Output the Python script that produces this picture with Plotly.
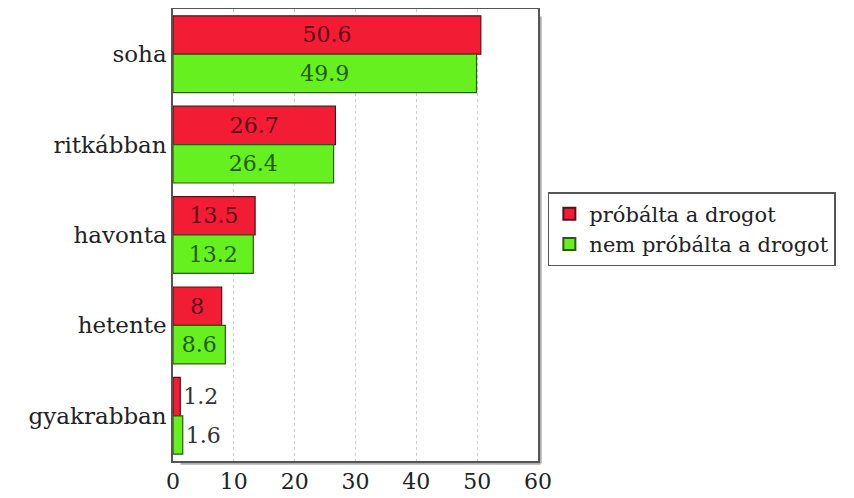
import plotly.graph_objects as go

categories = ["soha", "ritkábban", "havonta", "hetente", "gyakrabban"]
tried = [50.6, 26.7, 13.5, 8, 1.2]
not_tried = [49.9, 26.4, 13.2, 8.6, 1.6]
series_names = ["próbálta a drogot", "nem próbálta a drogot"]
x_ticks = [0, 10, 20, 30, 40, 50, 60]

FONT = "DejaVu Serif"
W, H = 854, 498
L, T = 165, 1
pw, ph = 365, 452
R, B = W - L - pw, H - T - ph

def positions(vals):
    return ["outside" if v < 5 else "inside" for v in vals]

fig = go.Figure()
fig.add_trace(go.Bar(
    y=categories, x=tried, orientation="h", name=series_names[0],
    marker=dict(color="#F21C35", line=dict(color="#5a1018", width=1.2)),
    text=[f"{v:g}" for v in tried], textposition=positions(tried),
    insidetextanchor="middle",
    insidetextfont=dict(family=FONT, size=22, color="#5e0c16"),
    outsidetextfont=dict(family=FONT, size=22, color="#333333"),
    cliponaxis=False,
))
fig.add_trace(go.Bar(
    y=categories, x=not_tried, orientation="h", name=series_names[1],
    marker=dict(color="#66F020", line=dict(color="#2a5a10", width=1.2)),
    text=[f"{v:g}" for v in not_tried], textposition=positions(not_tried),
    insidetextanchor="middle",
    insidetextfont=dict(family=FONT, size=22, color="#245c0c"),
    outsidetextfont=dict(family=FONT, size=22, color="#333333"),
    cliponaxis=False,
))

dx = 2.5 / pw
dy = 2.5 / ph
shapes = [
    dict(type="line", xref="paper", yref="paper", x0=1 + dx, x1=1 + dx, y0=-dy, y1=1 - 3 * dy,
         line=dict(color="#b0b0b0", width=2.5), layer="below"),
    dict(type="line", xref="paper", yref="paper", x0=3 * dx, x1=1 + dx, y0=-dy, y1=-dy,
         line=dict(color="#b0b0b0", width=2.5), layer="below"),
]

fig.update_layout(
    width=W, height=H,
    margin=dict(l=L, r=R, t=T, b=B, autoexpand=False),
    paper_bgcolor="white", plot_bgcolor="rgba(0,0,0,0)",
    barmode="group", bargap=0.15, bargroupgap=0,
    font=dict(family=FONT, size=22, color="#222222"),
    showlegend=True,
    legend=dict(x=1.027, y=0.595, xanchor="left", yanchor="top",
                bordercolor="#555555", borderwidth=1.5, bgcolor="white",
                font=dict(family=FONT, size=21, color="#222222"),
                itemsizing="constant", tracegroupgap=0, itemwidth=30),
    xaxis=dict(range=[0, 60], tickvals=x_ticks, showgrid=True,
               gridcolor="#cccccc", griddash="3px,3px", gridwidth=1,
               showline=True, linecolor="#555555", linewidth=1.5, mirror=True,
               ticks="", zeroline=False,
               tickfont=dict(family=FONT, size=22, color="#222222")),
    yaxis=dict(autorange="reversed", showline=True, linecolor="#555555", linewidth=1.5,
               mirror=True, ticks="", showgrid=False,
               tickfont=dict(family=FONT, size=23, color="#222222")),
    shapes=shapes,
)

fig.write_html("out.html")
